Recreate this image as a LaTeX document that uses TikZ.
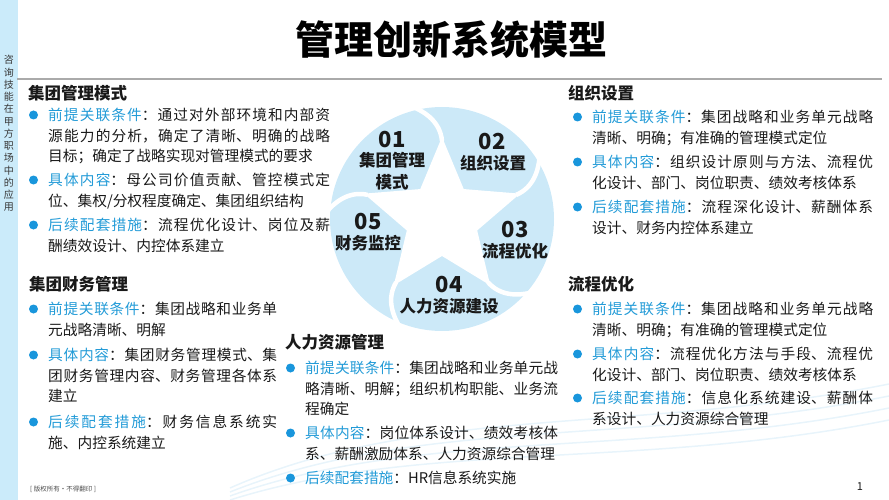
\documentclass[tikz,border=0pt]{standalone}
\usepackage{fontspec}
\setmainfont{Noto Sans CJK SC}
\usepackage{tikz}
\usetikzlibrary{positioning}

\XeTeXlinebreaklocale "zh"
\XeTeXlinebreakskip=0pt plus 3pt
\setlength{\parindent}{0pt}

\definecolor{sidebar}{RGB}{203,235,250}
\definecolor{emblem}{RGB}{204,233,248}
\definecolor{keyblue}{RGB}{35,155,215}
\definecolor{dotblue}{RGB}{25,150,220}
\definecolor{ink}{RGB}{25,25,25}
\definecolor{rulegray}{RGB}{170,170,170}
\definecolor{wave}{RGB}{232,244,251}

\newcommand{\kw}[1]{\textcolor{keyblue}{#1}}

\begin{document}
\begin{tikzpicture}[
    x=1pt, y=-1pt,
    titletext/.style={inner sep=0, font=\fontsize{39}{40}\selectfont\bfseries, text=black},
    sidetext/.style={inner sep=0, align=center, font=\fontsize{10}{12.25}\selectfont, text=black!78},
    head/.style={anchor=west, inner sep=0, font=\fontsize{16.5}{20}\selectfont\bfseries, text=ink},
    item/.style={anchor=north west, inner sep=0, align=justify, font=\fontsize{14.7}{20.8}\selectfont, text=ink},
    dot/.style={circle, fill=dotblue, inner sep=0, minimum size=9pt},
    num/.style={inner sep=0, font=\fontsize{22}{22}\selectfont\bfseries, text=ink},
    lbl/.style={inner sep=0, align=center, font=\fontsize{16.5}{22}\selectfont\bfseries, text=ink},
    gap/.style={white, line width=4.5pt},
    swoosh/.style={wave, line width=1.5pt}
]
\useasboundingbox (0,0) rectangle (889,500);

% === FRAME ===

% faint waves behind the lower half
\foreach \d in {0,12,24,36}
  \draw[swoosh] (230,{500-\d/3}) .. controls (420,{440-\d}) and (640,{470-\d}) .. (889,{420-\d});

% side strip
\fill[sidebar] (0,0) rectangle (18,500);
\node[sidetext] (side) at (9,133.5) {咨\\询\\技\\能\\在\\甲\\方\\职\\场\\中\\的\\应\\用};

% title and rule
\node[titletext] (title) at (451,40) {管理创新系统模型};
\draw[rulegray, line width=1.2pt] (17,79) -- (882,79);

% === STAR WHEEL ===

\begin{scope}[shift={(442,219)}, yscale=-1]
  \fill[emblem] (0,0) circle (112);
  % white star
  \fill[white] (90:82) \foreach \k in {0,...,4} {-- ({126+72*\k}:37) -- ({162+72*\k}:82)} -- cycle;
  % swirl gaps from the star points
  \foreach \a in {90,162,234,306,378}
    \draw[gap] (\a:78) .. controls ({\a+1}:96) and ({\a+8}:108) .. ({\a+16}:118);
\end{scope}

\node[num] (n01) at (392,140) {01};
\node[lbl] (l01) at (392,171) {集团管理\\模式};
\node[num] (n02) at (492,142) {02};
\node[lbl] (l02) at (493,163) {组织设置};
\node[num] (n03) at (515,230) {03};
\node[lbl] (l03) at (515,251) {流程优化};
\node[num] (n04) at (449,285) {04};
\node[lbl] (l04) at (449,306) {人力资源建设};
\node[num] (n05) at (368,222) {05};
\node[lbl] (l05) at (368,243) {财务监控};

% === LEFT TOP ===

\node[head] (headA) at (28,93) {集团管理模式};
\node[item, text width=282pt] (A1) at (48,107.7) {\kw{前提关联条件}：通过对外部环境和内部资\linebreak 源能力的分析，确定了清晰、明确的战略\linebreak 目标；确定了战略实现对管理模式的要求};
\node[item, text width=282pt] (A2) at (48,172.7) {\kw{具体内容}：母公司价值贡献、管控模式定\linebreak 位、集权/分权程度确定、集团组织结构};
\node[item, text width=282pt] (A3) at (48,217.7) {\kw{后续配套措施}：流程优化设计、岗位及薪\linebreak 酬绩效设计、内控体系建立};

% === LEFT BOTTOM ===

\node[head] (headB) at (29,284) {集团财务管理};
\node[item, text width=229pt] (B1) at (48,301.7) {\kw{前提关联条件}：集团战略和业务单\linebreak 元战略清晰、明解};
\node[item, text width=229pt] (B2) at (48,347.7) {\kw{具体内容}：集团财务管理模式、集\linebreak 团财务管理内容、财务管理各体系\linebreak 建立};
\node[item, text width=229pt] (B3) at (48,414.7) {\kw{后续配套措施}：财务信息系统实\linebreak 施、内控系统建立};

% === MIDDLE ===

\node[head] (headC) at (285,342) {人力资源管理};
\node[item, text width=253pt] (C1) at (305,360.7) {\kw{前提关联条件}：集团战略和业务单元战\linebreak 略清晰、明解；组织机构职能、业务流\linebreak 程确定};
\node[item, text width=253pt] (C2) at (305,425.7) {\kw{具体内容}：岗位体系设计、绩效考核体\linebreak 系、薪酬激励体系、人力资源综合管理};
\node[item, text width=253pt] (C3) at (305,470.7) {\kw{后续配套措施}：HR信息系统实施};

% === RIGHT TOP ===

\node[head] (headD) at (568,93) {组织设置};
\node[item, text width=281pt] (D1) at (592,109.7) {\kw{前提关联条件}：集团战略和业务单元战略\linebreak 清晰、明确；有准确的管理模式定位};
\node[item, text width=281pt] (D2) at (592,154.7) {\kw{具体内容}：组织设计原则与方法、流程优\linebreak 化设计、部门、岗位职责、绩效考核体系};
\node[item, text width=281pt] (D3) at (592,199.7) {\kw{后续配套措施}：流程深化设计、薪酬体系\linebreak 设计、财务内控体系建立};

% === RIGHT BOTTOM ===

\node[head] (headE) at (568,284) {流程优化};
\node[item, text width=281pt] (E1) at (592,301.7) {\kw{前提关联条件}：集团战略和业务单元战略\linebreak 清晰、明确；有准确的管理模式定位};
\node[item, text width=281pt] (E2) at (592,346.7) {\kw{具体内容}：流程优化方法与手段、流程优\linebreak 化设计、部门、岗位职责、绩效考核体系};
\node[item, text width=281pt] (E3) at (592,390.7) {\kw{后续配套措施}：信息化系统建设、薪酬体\linebreak 系设计、人力资源综合管理};

% === BULLETS ===

\foreach \n in {A1,A2,A3,B1,B2,B3,C1,C2,C3,D1,D2,D3,E1,E2,E3}
  \node[dot] (dot\n) at ([xshift=-14.5pt, yshift=-7.3pt]\n.north west) {};

% footer
\node[anchor=west, inner sep=0, font=\fontsize{6.5}{7}\selectfont, text=black!70] (note) at (30,489) {[ 版权所有·不得翻印 ]};
\node[inner sep=0, font=\fontsize{11}{12}\selectfont, text=ink] (page) at (860,487) {1};

\end{tikzpicture}
\end{document}
